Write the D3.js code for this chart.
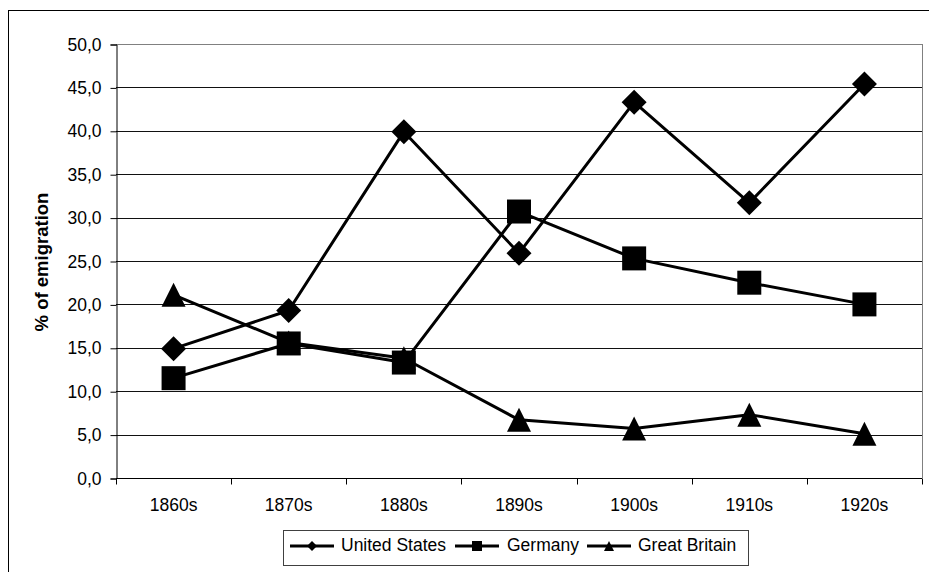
<!DOCTYPE html>
<html><head><meta charset="utf-8">
<script src="https://cdn.jsdelivr.net/npm/d3@7"></script>
<style>body{margin:0;background:#fff}svg{display:block;font-family:"Liberation Sans",Arial,sans-serif}</style>
</head><body>
<svg id="c" width="929" height="572"></svg>
<script>
const categories = ["1860s","1870s","1880s","1890s","1900s","1910s","1920s"];
const unitedStates = [14.9, 19.3, 39.9, 25.9, 43.3, 31.7, 45.4];
const germany = [11.5, 15.5, 13.3, 30.7, 25.3, 22.5, 20.0];
const greatBritain = [21.1, 15.6, 13.8, 6.7, 5.7, 7.3, 5.1];
const yTicks = [0,5,10,15,20,25,30,35,40,45,50];
const seriesNames = ["United States","Germany","Great Britain"];
const markerTypes = ["diamond","square","triangle"];

const series = [unitedStates, germany, greatBritain].map((v,i)=>({name:seriesNames[i], values:v, marker:markerTypes[i]}));

const FS = "17.5px";
const svg = d3.select("#c");
const L=116, R=922, T=44, B=478;
const x = d3.scaleBand().domain(categories).range([L,R]);
const y = d3.scaleLinear().domain([0,50]).range([B,T]);

// outer border
svg.append("rect").attr("x",8.5).attr("y",10.5).attr("width",1000).attr("height",1000)
  .attr("fill","none").attr("stroke","#000").attr("stroke-width",1);

// gridlines
svg.append("g").selectAll("line").data(yTicks.filter(d=>d>0)).join("line")
  .attr("x1",L).attr("x2",R)
  .attr("y1",d=>Math.round(y(d))+0.5).attr("y2",d=>Math.round(y(d))+0.5)
  .attr("stroke",d=>d===50?"#808080":"#111").attr("stroke-width",1);
// right border of plot area
svg.append("line").attr("x1",R+0.5).attr("x2",R+0.5).attr("y1",T).attr("y2",B)
  .attr("stroke","#808080");

// y axis
const yAxis = d3.axisLeft(y).tickValues(yTicks).tickSize(6).tickPadding(9)
  .tickFormat(d=>d3.format(".1f")(d).replace(".",","));
const gy = svg.append("g").attr("transform",`translate(${L+0.5},0.5)`).call(yAxis);
gy.select(".domain").attr("stroke","#000");
gy.selectAll(".tick line").attr("stroke","#000");
gy.selectAll("text").attr("font-size",FS).attr("fill","#000").attr("font-family","Liberation Sans, Arial, sans-serif");

// x axis
const xAxis = d3.axisBottom(x).tickSize(0).tickPadding(20);
const gx = svg.append("g").attr("transform",`translate(0,${B+0.5})`).call(xAxis);
gx.select(".domain").attr("stroke","#000").attr("d",`M${L},0H${R}`);
gx.selectAll("text").attr("font-size",FS).attr("fill","#000").attr("font-family","Liberation Sans, Arial, sans-serif");
// boundary ticks
gx.append("g").selectAll("line").data(categories.concat(["__end"])).join("line")
  .attr("x1",(d,i)=>Math.round(L+i*x.bandwidth())+0.5).attr("x2",(d,i)=>Math.round(L+i*x.bandwidth())+0.5)
  .attr("y1",0).attr("y2",6).attr("stroke","#000");

// y title
svg.append("text").attr("transform",`translate(48,${(T+B)/2+1}) rotate(-90)`)
  .attr("text-anchor","middle").attr("font-weight","bold").attr("font-size","18.5px")
  .text("% of emigration");

function markerPath(type, s){
  const h=s/2;
  if(type==="diamond") return `M0,${-h}L${h},0L0,${h}L${-h},0Z`;
  if(type==="square") return `M${-h},${-h}H${h}V${h}H${-h}Z`;
  return `M0,${-h}L${h},${h}H${-h}Z`;
}

const line = d3.line().x((d,i)=>x(categories[i])+x.bandwidth()/2).y(d=>y(d));
series.forEach(s=>{
  svg.append("path").attr("d",line(s.values)).attr("fill","none").attr("stroke","#000").attr("stroke-width",3).attr("stroke-linejoin","round");
});
series.forEach(s=>{
  const size = s.marker==="diamond"?25:(s.marker==="square"?24:24);
  svg.append("g").selectAll("path").data(s.values).join("path")
    .attr("transform",(d,i)=>`translate(${x(categories[i])+x.bandwidth()/2},${y(d)})`)
    .attr("d",markerPath(s.marker,size)).attr("fill","#000");
});

// legend
const lg = svg.append("g");
lg.append("rect").attr("x",283.5).attr("y",530.5).attr("width",465).attr("height",35)
  .attr("fill","#fff").attr("stroke","#404040");
const legendItems = [{x:290, tx:341},{x:455, tx:507},{x:587, tx:638}];
series.forEach((s,i)=>{
  const it=legendItems[i], cy=546;
  lg.append("line").attr("x1",it.x).attr("x2",it.x+44).attr("y1",cy).attr("y2",cy).attr("stroke","#000").attr("stroke-width",3);
  lg.append("path").attr("transform",`translate(${it.x+22},${cy})`).attr("d",markerPath(s.marker,10)).attr("fill","#000");
  lg.append("text").attr("x",it.tx).attr("y",cy+5).attr("font-size",FS).text(s.name);
});
</script>
</body></html>
